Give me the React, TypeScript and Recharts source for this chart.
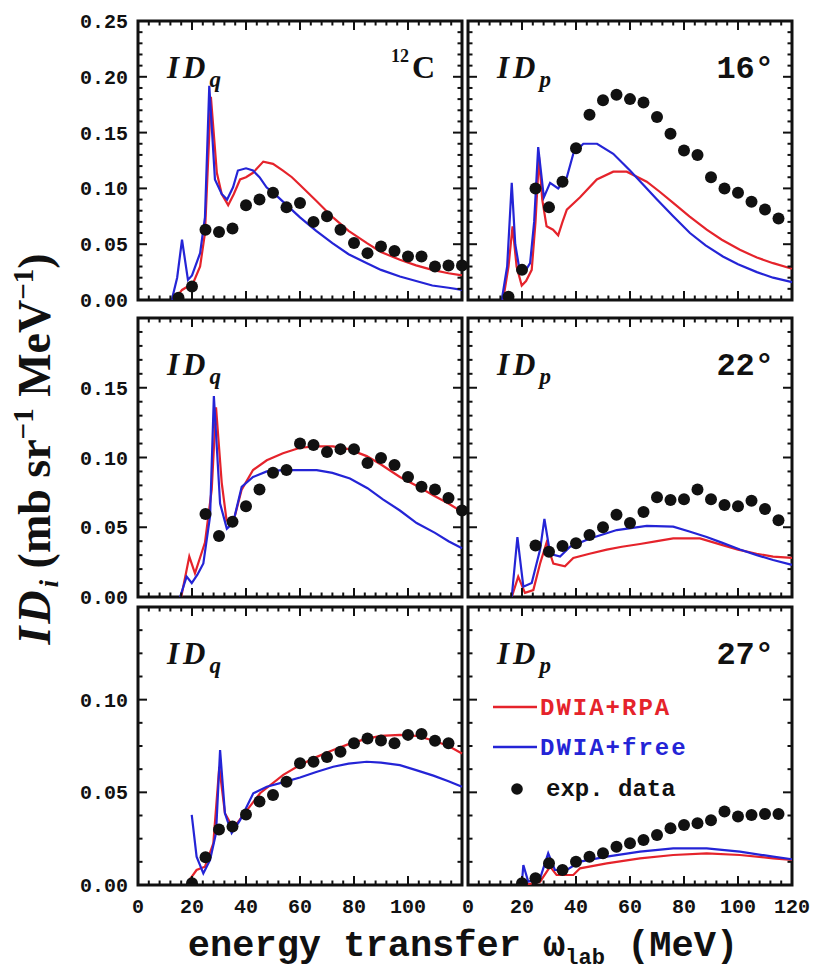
import { ComposedChart, Line, Scatter, XAxis, YAxis, ReferenceArea, Legend } from "recharts"

type Pt = [number, number]

const RED = "#e5232b"
const BLUE = "#2424d6"
const INK = "#111"

// 16 deg, ID_q
const q16Rpa: Pt[] = [[13.5, 0], [16.3, 0.009], [20.4, 0.015], [23, 0.03], [24.8, 0.06], [27, 0.182], [29.2, 0.114], [31, 0.095], [33.4, 0.085], [35.5, 0.095], [37.8, 0.108], [40, 0.11], [42.6, 0.114], [46.4, 0.124], [50, 0.122], [53.7, 0.116], [57, 0.11], [60, 0.103], [66, 0.089], [72.2, 0.074], [78, 0.062], [84.8, 0.051], [90, 0.043], [97, 0.036], [103, 0.031], [109, 0.027], [115, 0.024], [120, 0.022]]
const q16Free: Pt[] = [[12.5, 0], [14.5, 0.02], [16.3, 0.054], [18.5, 0.018], [20, 0.022], [23, 0.042], [24.8, 0.074], [26.4, 0.192], [28.5, 0.108], [31, 0.095], [33, 0.09], [35.2, 0.101], [37, 0.116], [40, 0.118], [42.6, 0.116], [45, 0.11], [47.6, 0.101], [52, 0.092], [56, 0.083], [60, 0.074], [66, 0.062], [72, 0.051], [78, 0.041], [84.8, 0.033], [90, 0.027], [97, 0.021], [103, 0.017], [109, 0.013], [115, 0.011], [120, 0.009]]
const q16Exp: Pt[] = [[15, 0.002], [20, 0.012], [25, 0.063], [30, 0.061], [35, 0.064], [40, 0.085], [45, 0.09], [50, 0.096], [55, 0.083], [60, 0.087], [65, 0.07], [70, 0.075], [75, 0.063], [80, 0.051], [85, 0.042], [90, 0.048], [95, 0.044], [100, 0.039], [105, 0.039], [110, 0.03], [115, 0.031], [120, 0.031]]

// 16 deg, ID_p
const p16Rpa: Pt[] = [[13, 0], [15, 0.03], [16.5, 0.066], [18, 0.03], [19.9, 0.013], [21.5, 0.017], [23.6, 0.027], [25, 0.07], [26.3, 0.128], [27.5, 0.09], [29.1, 0.066], [31.5, 0.063], [33.4, 0.058], [35, 0.07], [36.6, 0.081], [41.5, 0.092], [47.7, 0.108], [53.8, 0.115], [58.8, 0.115], [66.2, 0.106], [71, 0.097], [76, 0.087], [82, 0.075], [88.4, 0.063], [94, 0.054], [100.7, 0.045], [107, 0.038], [113, 0.033], [120, 0.028]]
const p16Free: Pt[] = [[12.5, 0], [14.5, 0.03], [16.2, 0.105], [17.5, 0.05], [19.3, 0.024], [21, 0.025], [23, 0.033], [24.5, 0.07], [26, 0.137], [28.1, 0.092], [30.4, 0.105], [33.4, 0.1], [36.6, 0.11], [39, 0.131], [42.7, 0.14], [47.8, 0.14], [53.8, 0.131], [60, 0.116], [65, 0.103], [70, 0.09], [76, 0.075], [82.2, 0.06], [88, 0.049], [94.4, 0.039], [100, 0.032], [107, 0.025], [113, 0.02], [120, 0.016]]
const p16Exp: Pt[] = [[15, 0.003], [20, 0.027], [25, 0.1], [30, 0.083], [35, 0.106], [40, 0.136], [45, 0.166], [50, 0.179], [55, 0.184], [60, 0.18], [65, 0.177], [70, 0.164], [75, 0.149], [80, 0.134], [85, 0.13], [90, 0.11], [95, 0.1], [100, 0.096], [105, 0.088], [110, 0.081], [115, 0.073]]

// 22 deg, ID_q
const q22Rpa: Pt[] = [[16, 0], [19, 0.029], [21.1, 0.017], [24.8, 0.039], [27.3, 0.077], [28.9, 0.136], [31, 0.082], [32.8, 0.055], [35.2, 0.053], [38.4, 0.077], [42.6, 0.091], [47.7, 0.098], [53.7, 0.103], [60, 0.107], [66, 0.108], [72.2, 0.108], [78, 0.106], [84.7, 0.101], [90, 0.095], [97, 0.086], [103, 0.08], [109.3, 0.073], [115, 0.067], [120, 0.061]]
const q22Free: Pt[] = [[15.6, 0], [18, 0.0146], [19.9, 0.01], [22, 0.016], [24.2, 0.024], [26.7, 0.058], [28.1, 0.144], [30.4, 0.067], [32.9, 0.049], [35.2, 0.053], [38.4, 0.079], [42.6, 0.086], [47.7, 0.09], [53.7, 0.091], [60, 0.091], [66.2, 0.091], [72, 0.089], [78.5, 0.085], [85, 0.078], [90.7, 0.07], [97, 0.062], [103.2, 0.053], [110, 0.046], [115, 0.04], [120, 0.035]]
const q22Exp: Pt[] = [[25, 0.0595], [30, 0.0437], [35, 0.054], [40, 0.065], [45, 0.077], [50, 0.089], [55, 0.091], [60, 0.11], [65, 0.109], [70, 0.104], [75, 0.106], [80, 0.106], [85, 0.096], [90, 0.0996], [95, 0.0946], [100, 0.086], [105, 0.079], [110, 0.077], [115, 0.071], [120, 0.062]]

// 22 deg, ID_p
const p22Rpa: Pt[] = [[16.2, 0], [18.6, 0.0146], [21.1, 0.003], [24.2, 0.005], [26.7, 0.024], [29.1, 0.039], [31.6, 0.024], [35.9, 0.022], [39, 0.028], [45, 0.031], [51.4, 0.034], [57, 0.036], [63.7, 0.038], [70, 0.04], [76, 0.042], [85.9, 0.042], [94.6, 0.037], [100, 0.034], [106.9, 0.031], [113, 0.029], [120, 0.028]]
const p22Free: Pt[] = [[16.2, 0], [18.3, 0.043], [20.5, 0.0074], [23.6, 0.01], [26.7, 0.034], [28.3, 0.056], [30.4, 0.031], [34.1, 0.029], [37.8, 0.036], [45.2, 0.042], [55.1, 0.048], [66.2, 0.051], [76, 0.0504], [82, 0.047], [88.4, 0.043], [94, 0.039], [100.7, 0.034], [107, 0.03], [113, 0.0265], [120, 0.023]]
const p22Exp: Pt[] = [[25, 0.037], [30, 0.0325], [35, 0.0366], [40, 0.0385], [45, 0.0444], [50, 0.05], [55, 0.059], [60, 0.053], [65, 0.061], [70, 0.0715], [75, 0.0695], [80, 0.07], [85, 0.077], [90, 0.07], [95, 0.066], [100, 0.065], [105, 0.069], [110, 0.063], [115, 0.055]]

// 27 deg, ID_q
const q27Rpa: Pt[] = [[18.6, 0.0018], [21.7, 0.0081], [24.8, 0.0099], [27.9, 0.0225], [30.1, 0.0638], [32.2, 0.0387], [35.3, 0.0306], [39, 0.0378], [45.2, 0.0495], [53.8, 0.0594], [60, 0.0647], [66, 0.069], [72.3, 0.0728], [78, 0.076], [84.7, 0.079], [90, 0.0805], [97, 0.081], [103, 0.0805], [109.4, 0.078], [115, 0.075], [120, 0.071]]
const q27Free: Pt[] = [[19.9, 0.0378], [21.7, 0.0153], [24.2, 0.0063], [26.7, 0.0135], [28.9, 0.028], [30.4, 0.0728], [32.2, 0.0387], [34.7, 0.028], [37.8, 0.035], [42.7, 0.0495], [47.7, 0.053], [54, 0.0555], [60, 0.058], [66, 0.061], [72.3, 0.0638], [78, 0.0655], [84.7, 0.0665], [90, 0.066], [97, 0.0647], [103, 0.062], [109.4, 0.059], [115, 0.056], [120, 0.053]]
const q27Exp: Pt[] = [[20, 0.001], [25, 0.015], [30, 0.03], [35, 0.0315], [40, 0.038], [45, 0.045], [50, 0.0486], [55, 0.0557], [60, 0.0657], [65, 0.0665], [70, 0.069], [75, 0.0719], [80, 0.0765], [85, 0.079], [90, 0.078], [95, 0.0765], [100, 0.081], [105, 0.0815], [110, 0.0778], [115, 0.0765]]

// 27 deg, ID_p
const p27Rpa: Pt[] = [[21, 0], [26.7, 0.0018], [30.4, 0.0099], [32.8, 0.0054], [39, 0.0054], [41.5, 0.009], [51.4, 0.0117], [63.7, 0.0144], [76, 0.0162], [88.4, 0.0171], [100.7, 0.0162], [113, 0.0144], [120, 0.0135]]
const p27Free: Pt[] = [[19.9, 0], [20.5, 0.0108], [22.3, 0.0018], [26.7, 0.0036], [29.7, 0.0171], [32.2, 0.0081], [36.6, 0.0081], [41.5, 0.0126], [51.4, 0.0153], [63.7, 0.018], [76, 0.0198], [88.4, 0.0198], [100.7, 0.018], [113, 0.0153], [120, 0.0139]]
const p27Exp: Pt[] = [[20, 0.001], [25, 0.0036], [30, 0.0117], [35, 0.0081], [40, 0.0126], [45, 0.0153], [50, 0.0171], [55, 0.0207], [60, 0.0225], [65, 0.0243], [70, 0.027], [75, 0.0306], [80, 0.0324], [85, 0.0333], [90, 0.035], [95, 0.0396], [100, 0.0369], [105, 0.0378], [110, 0.0383], [115, 0.0383]]

const xTicks = Array.from({ length: 31 }, (_, i) => i * 4)
const cornerLabels = ["12C", "16°", "22°", "27°"]

const rows = (pts: Pt[]) => pts.map(([x, y]) => ({ x, y }))

const PLOT_W = 324
// outer space around each plot; the 1px axis boxes are taken out of bottom/left
const PAD = { top: 12, right: 24, bottom: 42, left: 70 }
const M = { top: PAD.top, right: PAD.right, bottom: PAD.bottom - 1, left: PAD.left - 1 }
const monoBold = { fontFamily: "'Liberation Mono', monospace", fontWeight: 700 }
const serifBold = { fontFamily: "'Liberation Serif', serif", fontWeight: 700 }

function XTick(props: any) {
  const { x, y, payload, plotH, showLabel, maxLabel } = props
  const v = payload.value
  const major = v % 20 === 0
  const len = major ? 9 : 4.5
  return (
    <g>
      <line x1={x} y1={y} x2={x} y2={y - len} stroke={INK} strokeWidth={2} />
      <line x1={x} y1={y - plotH} x2={x} y2={y - plotH + len} stroke={INK} strokeWidth={2} />
      {showLabel && major && v <= maxLabel && (
        <text x={x} y={y + 28} textAnchor="middle" fontSize={20} fill={INK} {...monoBold}>{v}</text>
      )}
    </g>
  )
}

function YTick(props: any) {
  const { x, y, payload, showLabel, yMax, topLabel } = props
  const v = payload.value
  const major = Math.abs(v / 0.05 - Math.round(v / 0.05)) < 1e-6
  const len = major ? 9 : 4.5
  const labelled = showLabel && major && (topLabel || v < yMax - 1e-9)
  return (
    <g>
      <line x1={x} y1={y} x2={x + len} y2={y} stroke={INK} strokeWidth={2} />
      <line x1={x + PLOT_W} y1={y} x2={x + PLOT_W - len} y2={y} stroke={INK} strokeWidth={2} />
      {labelled && (
        <text x={x - 10} y={y + 7} textAnchor="end" fontSize={20} fill={INK} {...monoBold}>{v.toFixed(2)}</text>
      )}
    </g>
  )
}

function LegendBox() {
  return (
    <svg width={230} height={112} style={{ display: "block" }}>
      <line x1={0} y1={17} x2={44} y2={17} stroke={RED} strokeWidth={2.5} />
      <text x={47} y={25} fontSize={24} letterSpacing={2} fill={RED} {...monoBold}>DWIA+RPA</text>
      <line x1={0} y1={57} x2={44} y2={57} stroke={BLUE} strokeWidth={2.5} />
      <text x={47} y={65} fontSize={24} letterSpacing={2} fill={BLUE} {...monoBold}>DWIA+free</text>
      <circle cx={24} cy={99} r={5.8} fill={INK} />
      <text x={53} y={106} fontSize={24} fill={INK} {...monoBold}>exp. data</text>
    </svg>
  )
}

interface PanelProps {
  left: number
  top: number
  plotH: number
  yMax: number
  yStep: number
  rpa: Pt[]
  free: Pt[]
  exp: Pt[]
  showX: boolean
  xMaxLabel: number
  showY: boolean
  topLabel: boolean
  legend?: boolean
}

function Panel(p: PanelProps) {
  const yTicks = Array.from({ length: Math.round(p.yMax / p.yStep) + 1 }, (_, i) => +(i * p.yStep).toFixed(5))
  const width = PLOT_W + PAD.left + PAD.right
  const height = p.plotH + PAD.top + PAD.bottom
  return (
    <div style={{ position: "absolute", left: p.left - PAD.left, top: p.top - PAD.top }}>
      <ComposedChart width={width} height={height} margin={M}>
        <XAxis
          type="number"
          dataKey="x"
          domain={[0, 120]}
          ticks={xTicks}
          interval={0}
          height={1}
          tickSize={0}
          tickMargin={0}
          axisLine={false}
          tickLine={false}
          tick={(t: any) => <XTick {...t} plotH={p.plotH} showLabel={p.showX} maxLabel={p.xMaxLabel} />}
        />
        <YAxis
          type="number"
          domain={[0, p.yMax]}
          ticks={yTicks}
          interval={0}
          width={1}
          tickSize={0}
          tickMargin={0}
          axisLine={false}
          tickLine={false}
          allowDataOverflow
          tick={(t: any) => <YTick {...t} showLabel={p.showY} yMax={p.yMax} topLabel={p.topLabel} />}
        />
        <ReferenceArea x1={0} x2={120} y1={0} y2={p.yMax} fill="none" stroke={INK} strokeWidth={3} ifOverflow="visible" />
        <Line data={rows(p.rpa)} dataKey="y" type="linear" stroke={RED} strokeWidth={2.2} dot={false} isAnimationActive={false} />
        <Line data={rows(p.free)} dataKey="y" type="linear" stroke={BLUE} strokeWidth={2.2} dot={false} isAnimationActive={false} />
        <Scatter
          data={rows(p.exp)}
          dataKey="y"
          isAnimationActive={false}
          shape={(s: any) => <circle cx={s.cx} cy={s.cy} r={6} fill={INK} />}
        />
        {p.legend && (
          <Legend
            layout="horizontal"
            verticalAlign="middle"
            align="center"
            wrapperStyle={{ left: PAD.left + 25, top: PAD.top + 83, width: 230 }}
            content={() => <LegendBox />}
          />
        )}
      </ComposedChart>
    </div>
  )
}

const COLS = [138, 468]
const ROWS = [
  { top: 21, h: 279, yMax: 0.25, yStep: 0.01 },
  { top: 318, h: 279, yMax: 0.2, yStep: 0.01 },
  { top: 607, h: 278, yMax: 0.15, yStep: 0.0125 },
]

function PanelTitle({ x, y, sub }: { x: number; y: number; sub: string }) {
  return (
    <text x={x} y={y} fontSize={31} fill={INK} fontStyle="italic" {...serifBold}>
      <tspan letterSpacing={4}>ID</tspan>
      <tspan fontSize={23} dy={9}>{sub}</tspan>
    </text>
  )
}

export default function App() {
  const data = [
    [q16Rpa, q16Free, q16Exp, p16Rpa, p16Free, p16Exp],
    [q22Rpa, q22Free, q22Exp, p22Rpa, p22Free, p22Exp],
    [q27Rpa, q27Free, q27Exp, p27Rpa, p27Free, p27Exp],
  ]
  return (
    <div style={{ position: "absolute", left: 0, top: 0, width: 814, height: 972, background: "#fff", overflow: "hidden" }}>
      {ROWS.map((r, ri) =>
        COLS.map((cx, ci) => (
          <Panel
            key={`${ri}-${ci}`}
            left={cx}
            top={r.top}
            plotH={r.h}
            yMax={r.yMax}
            yStep={r.yStep}
            rpa={data[ri][ci * 3]}
            free={data[ri][ci * 3 + 1]}
            exp={data[ri][ci * 3 + 2]}
            showX={ri === 2}
            xMaxLabel={ci === 0 ? 100 : 120}
            showY={ci === 0}
            topLabel={ri === 0}
            legend={ri === 2 && ci === 1}
          />
        ))
      )}
      <svg width={814} height={972} style={{ position: "absolute", left: 0, top: 0, pointerEvents: "none" }}>
        {ROWS.map((r, ri) =>
          COLS.map((cx, ci) => (
            <PanelTitle key={`t${ri}-${ci}`} x={cx + 29} y={r.top + 57} sub={ci === 0 ? "q" : "p"} />
          ))
        )}
        <text x={COLS[0] + 297} y={ROWS[0].top + 57} textAnchor="end" fontSize={32} fill={INK} {...serifBold}>
          <tspan fontSize={18} dy={-16}>{cornerLabels[0].slice(0, 2)}</tspan>
          <tspan dy={16} dx={3}>{cornerLabels[0].slice(2)}</tspan>
        </text>
        {ROWS.map((r, ri) => (
          <text key={`a${ri}`} x={COLS[1] + 306} y={r.top + 57} textAnchor="end" fontSize={32} fill={INK} {...monoBold}>
            {cornerLabels[ri + 1]}
          </text>
        ))}
        <text x={463} y={956} textAnchor="middle" fontSize={37} fill={INK} {...monoBold}>
          energy transfer ω<tspan fontSize={22} dy={8}>lab</tspan>
          <tspan dy={-8}> (MeV)</tspan>
        </text>
        <text transform="rotate(-90 50 449)" x={50} y={449} textAnchor="middle" fontSize={46} fill={INK} {...serifBold}>
          <tspan fontStyle="italic" letterSpacing={3}>ID</tspan>
          <tspan fontSize={27} dy={8} fontStyle="italic">i</tspan>
          <tspan dy={-8}> (mb sr</tspan>
          <tspan fontSize={29} dy={-17}>−1</tspan>
          <tspan dy={17}> MeV</tspan>
          <tspan fontSize={29} dy={-17}>−1</tspan>
          <tspan dy={17}>)</tspan>
        </text>
      </svg>
    </div>
  )
}
